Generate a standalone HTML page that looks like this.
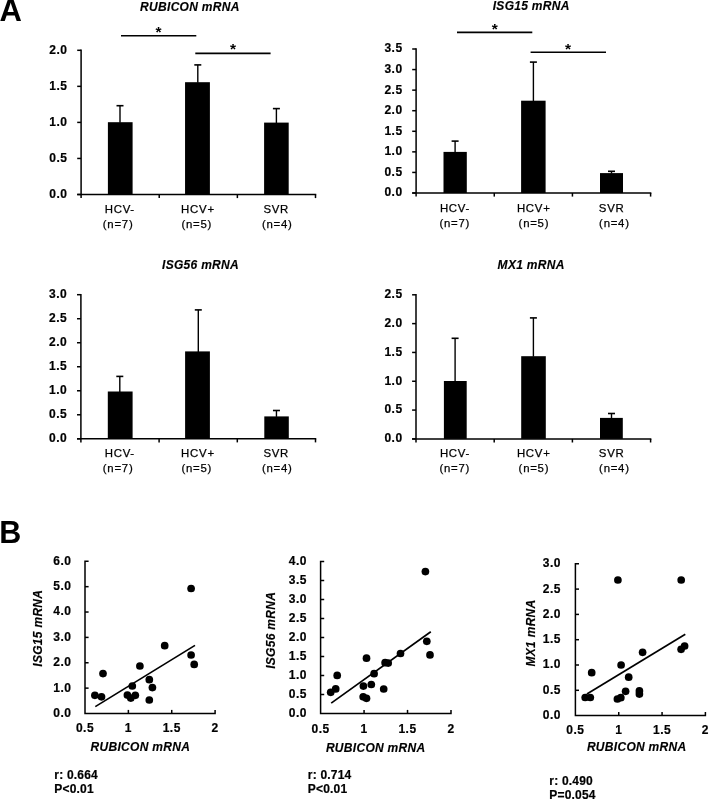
<!DOCTYPE html>
<html><head><meta charset="utf-8"><style>
html,body{margin:0;padding:0;background:#fff;}
body{width:709px;height:799px;overflow:hidden;}
svg{display:block;will-change:transform;font-family:"Liberation Sans",sans-serif;}
line,polyline{stroke:#000;fill:none;}
rect,circle{fill:#000;}
text{fill:#000;}
.yl{font-size:12px;font-weight:bold;letter-spacing:0.5px;stroke:#000;stroke-width:0.2px;}
.cl{font-size:11.4px;letter-spacing:0.75px;stroke:#000;stroke-width:0.25px;}
.tt{font-size:12px;font-weight:bold;font-style:italic;letter-spacing:0.3px;stroke:#000;stroke-width:0.15px;}
.ast{font-size:15.5px;font-weight:bold;}
.pl{font-size:29px;font-weight:bold;}
.rl{font-size:12px;font-weight:bold;letter-spacing:0.2px;stroke:#000;stroke-width:0.2px;}
</style></head><body>
<svg width="709" height="799" viewBox="0 0 709 799">
<line x1="81.1" y1="49.55" x2="81.1" y2="198.1" stroke-width="1.5"/>
<line x1="77.2" y1="194.5" x2="316.25" y2="194.5" stroke-width="1.5"/>
<line x1="77.2" y1="194.5" x2="81.1" y2="194.5" stroke-width="1.5"/>
<text x="67.4" y="197.9" class="yl" text-anchor="end">0.0</text>
<line x1="77.2" y1="158.45" x2="81.1" y2="158.45" stroke-width="1.5"/>
<text x="67.4" y="161.85" class="yl" text-anchor="end">0.5</text>
<line x1="77.2" y1="122.4" x2="81.1" y2="122.4" stroke-width="1.5"/>
<text x="67.4" y="125.8" class="yl" text-anchor="end">1.0</text>
<line x1="77.2" y1="86.35" x2="81.1" y2="86.35" stroke-width="1.5"/>
<text x="67.4" y="89.75" class="yl" text-anchor="end">1.5</text>
<line x1="77.2" y1="50.3" x2="81.1" y2="50.3" stroke-width="1.5"/>
<text x="67.4" y="53.7" class="yl" text-anchor="end">2.0</text>
<line x1="159.23" y1="194.5" x2="159.23" y2="198.1" stroke-width="1.5"/>
<line x1="237.37" y1="194.5" x2="237.37" y2="198.1" stroke-width="1.5"/>
<line x1="315.5" y1="194.5" x2="315.5" y2="198.1" stroke-width="1.5"/>
<rect x="107.9" y="122.2" width="24.7" height="72.3"/>
<line x1="120" y1="105.7" x2="120" y2="122.7" stroke-width="1.4"/>
<line x1="116.5" y1="105.7" x2="123.5" y2="105.7" stroke-width="1.6"/>
<rect x="185.05" y="82.2" width="24.85" height="112.3"/>
<line x1="197.8" y1="64.9" x2="197.8" y2="82.7" stroke-width="1.4"/>
<line x1="194.3" y1="64.9" x2="201.3" y2="64.9" stroke-width="1.6"/>
<rect x="264.1" y="122.6" width="24.6" height="71.9"/>
<line x1="276.4" y1="108.6" x2="276.4" y2="123.1" stroke-width="1.4"/>
<line x1="272.9" y1="108.6" x2="279.9" y2="108.6" stroke-width="1.6"/>
<text x="104.7" y="213" class="cl">HCV-</text>
<text x="102.8" y="227.6" class="cl">(n=7)</text>
<text x="181.1" y="213" class="cl">HCV+</text>
<text x="181.4" y="227.6" class="cl">(n=5)</text>
<text x="263.4" y="213" class="cl">SVR</text>
<text x="261.9" y="227.6" class="cl">(n=4)</text>
<text x="140.1" y="10.6" class="tt">RUBICON mRNA</text>
<line x1="121" y1="35.8" x2="196.3" y2="35.8" stroke-width="1.6"/>
<text x="158.6" y="36.6" class="ast" text-anchor="middle">*</text>
<line x1="195.3" y1="53.4" x2="270.6" y2="53.4" stroke-width="1.6"/>
<text x="233.1" y="54.3" class="ast" text-anchor="middle">*</text>
<line x1="416.1" y1="48.25" x2="416.1" y2="196.6" stroke-width="1.5"/>
<line x1="412.2" y1="193" x2="651.35" y2="193" stroke-width="1.5"/>
<line x1="412.2" y1="193" x2="416.1" y2="193" stroke-width="1.5"/>
<text x="402.6" y="196.4" class="yl" text-anchor="end">0.0</text>
<line x1="412.2" y1="172.43" x2="416.1" y2="172.43" stroke-width="1.5"/>
<text x="402.6" y="175.83" class="yl" text-anchor="end">0.5</text>
<line x1="412.2" y1="151.86" x2="416.1" y2="151.86" stroke-width="1.5"/>
<text x="402.6" y="155.26" class="yl" text-anchor="end">1.0</text>
<line x1="412.2" y1="131.29" x2="416.1" y2="131.29" stroke-width="1.5"/>
<text x="402.6" y="134.69" class="yl" text-anchor="end">1.5</text>
<line x1="412.2" y1="110.71" x2="416.1" y2="110.71" stroke-width="1.5"/>
<text x="402.6" y="114.11" class="yl" text-anchor="end">2.0</text>
<line x1="412.2" y1="90.14" x2="416.1" y2="90.14" stroke-width="1.5"/>
<text x="402.6" y="93.54" class="yl" text-anchor="end">2.5</text>
<line x1="412.2" y1="69.57" x2="416.1" y2="69.57" stroke-width="1.5"/>
<text x="402.6" y="72.97" class="yl" text-anchor="end">3.0</text>
<line x1="412.2" y1="49" x2="416.1" y2="49" stroke-width="1.5"/>
<text x="402.6" y="52.4" class="yl" text-anchor="end">3.5</text>
<line x1="494.27" y1="193" x2="494.27" y2="196.6" stroke-width="1.5"/>
<line x1="572.43" y1="193" x2="572.43" y2="196.6" stroke-width="1.5"/>
<line x1="650.6" y1="193" x2="650.6" y2="196.6" stroke-width="1.5"/>
<rect x="443.5" y="151.9" width="23.3" height="41.1"/>
<line x1="455.1" y1="141.1" x2="455.1" y2="152.4" stroke-width="1.4"/>
<line x1="451.6" y1="141.1" x2="458.6" y2="141.1" stroke-width="1.6"/>
<rect x="521.1" y="100.7" width="24.5" height="92.3"/>
<line x1="533.4" y1="62.1" x2="533.4" y2="101.2" stroke-width="1.4"/>
<line x1="529.9" y1="62.1" x2="536.9" y2="62.1" stroke-width="1.6"/>
<rect x="600" y="173.1" width="23" height="19.9"/>
<line x1="611.5" y1="171.3" x2="611.5" y2="173.6" stroke-width="1.4"/>
<line x1="608" y1="171.3" x2="615" y2="171.3" stroke-width="1.6"/>
<text x="439.9" y="211.8" class="cl">HCV-</text>
<text x="439.4" y="227.4" class="cl">(n=7)</text>
<text x="516.9" y="211.8" class="cl">HCV+</text>
<text x="518.6" y="227.4" class="cl">(n=5)</text>
<text x="598.8" y="211.8" class="cl">SVR</text>
<text x="599.1" y="227.4" class="cl">(n=4)</text>
<text x="492.7" y="10.2" class="tt">ISG15 mRNA</text>
<line x1="457" y1="32.4" x2="532.3" y2="32.4" stroke-width="1.6"/>
<text x="494.8" y="33.8" class="ast" text-anchor="middle">*</text>
<line x1="530.6" y1="52.2" x2="606" y2="52.2" stroke-width="1.6"/>
<text x="568.1" y="53.8" class="ast" text-anchor="middle">*</text>
<line x1="80.9" y1="293.95" x2="80.9" y2="442.4" stroke-width="1.5"/>
<line x1="77" y1="438.8" x2="316.25" y2="438.8" stroke-width="1.5"/>
<line x1="77" y1="438.8" x2="80.9" y2="438.8" stroke-width="1.5"/>
<text x="67.2" y="442.2" class="yl" text-anchor="end">0.0</text>
<line x1="77" y1="414.78" x2="80.9" y2="414.78" stroke-width="1.5"/>
<text x="67.2" y="418.18" class="yl" text-anchor="end">0.5</text>
<line x1="77" y1="390.77" x2="80.9" y2="390.77" stroke-width="1.5"/>
<text x="67.2" y="394.17" class="yl" text-anchor="end">1.0</text>
<line x1="77" y1="366.75" x2="80.9" y2="366.75" stroke-width="1.5"/>
<text x="67.2" y="370.15" class="yl" text-anchor="end">1.5</text>
<line x1="77" y1="342.73" x2="80.9" y2="342.73" stroke-width="1.5"/>
<text x="67.2" y="346.13" class="yl" text-anchor="end">2.0</text>
<line x1="77" y1="318.72" x2="80.9" y2="318.72" stroke-width="1.5"/>
<text x="67.2" y="322.12" class="yl" text-anchor="end">2.5</text>
<line x1="77" y1="294.7" x2="80.9" y2="294.7" stroke-width="1.5"/>
<text x="67.2" y="298.1" class="yl" text-anchor="end">3.0</text>
<line x1="159.1" y1="438.8" x2="159.1" y2="442.4" stroke-width="1.5"/>
<line x1="237.3" y1="438.8" x2="237.3" y2="442.4" stroke-width="1.5"/>
<line x1="315.5" y1="438.8" x2="315.5" y2="442.4" stroke-width="1.5"/>
<rect x="107.8" y="391.5" width="24.8" height="47.3"/>
<line x1="119.8" y1="376.4" x2="119.8" y2="392" stroke-width="1.4"/>
<line x1="116.3" y1="376.4" x2="123.3" y2="376.4" stroke-width="1.6"/>
<rect x="185.1" y="351.4" width="24.8" height="87.4"/>
<line x1="198.3" y1="309.9" x2="198.3" y2="351.9" stroke-width="1.4"/>
<line x1="194.8" y1="309.9" x2="201.8" y2="309.9" stroke-width="1.6"/>
<rect x="264.3" y="416.4" width="24.5" height="22.4"/>
<line x1="276.45" y1="410.5" x2="276.45" y2="416.9" stroke-width="1.4"/>
<line x1="272.95" y1="410.5" x2="279.95" y2="410.5" stroke-width="1.6"/>
<text x="104.7" y="457.3" class="cl">HCV-</text>
<text x="102.8" y="471.9" class="cl">(n=7)</text>
<text x="181.1" y="457.3" class="cl">HCV+</text>
<text x="181.4" y="471.9" class="cl">(n=5)</text>
<text x="263.4" y="457.3" class="cl">SVR</text>
<text x="261.9" y="471.9" class="cl">(n=4)</text>
<text x="162" y="269.1" class="tt">ISG56 mRNA</text>
<line x1="416" y1="294.05" x2="416" y2="442.5" stroke-width="1.5"/>
<line x1="412.1" y1="438.9" x2="651.35" y2="438.9" stroke-width="1.5"/>
<line x1="412.1" y1="438.9" x2="416" y2="438.9" stroke-width="1.5"/>
<text x="402.6" y="442.3" class="yl" text-anchor="end">0.0</text>
<line x1="412.1" y1="410.08" x2="416" y2="410.08" stroke-width="1.5"/>
<text x="402.6" y="413.48" class="yl" text-anchor="end">0.5</text>
<line x1="412.1" y1="381.26" x2="416" y2="381.26" stroke-width="1.5"/>
<text x="402.6" y="384.66" class="yl" text-anchor="end">1.0</text>
<line x1="412.1" y1="352.44" x2="416" y2="352.44" stroke-width="1.5"/>
<text x="402.6" y="355.84" class="yl" text-anchor="end">1.5</text>
<line x1="412.1" y1="323.62" x2="416" y2="323.62" stroke-width="1.5"/>
<text x="402.6" y="327.02" class="yl" text-anchor="end">2.0</text>
<line x1="412.1" y1="294.8" x2="416" y2="294.8" stroke-width="1.5"/>
<text x="402.6" y="298.2" class="yl" text-anchor="end">2.5</text>
<line x1="494.2" y1="438.9" x2="494.2" y2="442.5" stroke-width="1.5"/>
<line x1="572.4" y1="438.9" x2="572.4" y2="442.5" stroke-width="1.5"/>
<line x1="650.6" y1="438.9" x2="650.6" y2="442.5" stroke-width="1.5"/>
<rect x="443.9" y="381" width="22.8" height="57.9"/>
<line x1="455.1" y1="338.3" x2="455.1" y2="381.5" stroke-width="1.4"/>
<line x1="451.6" y1="338.3" x2="458.6" y2="338.3" stroke-width="1.6"/>
<rect x="521.2" y="356.2" width="24.6" height="82.7"/>
<line x1="533.4" y1="317.9" x2="533.4" y2="356.7" stroke-width="1.4"/>
<line x1="529.9" y1="317.9" x2="536.9" y2="317.9" stroke-width="1.6"/>
<rect x="600" y="417.9" width="22.8" height="21"/>
<line x1="611.5" y1="413.5" x2="611.5" y2="418.4" stroke-width="1.4"/>
<line x1="608" y1="413.5" x2="615" y2="413.5" stroke-width="1.6"/>
<text x="439.9" y="456.6" class="cl">HCV-</text>
<text x="439.4" y="472.2" class="cl">(n=7)</text>
<text x="516.9" y="456.6" class="cl">HCV+</text>
<text x="518.6" y="472.2" class="cl">(n=5)</text>
<text x="598.8" y="456.6" class="cl">SVR</text>
<text x="599.1" y="472.2" class="cl">(n=4)</text>
<text x="497.6" y="269.1" class="tt">MX1 mRNA</text>
<text x="-0.4" y="20.7" class="pl" style="font-size:31px">A</text>
<text x="-0.8" y="542.9" class="pl" style="font-size:30.5px">B</text>
<polyline points="88.6,561.3 85,561.3 85,713.5 215.1,713.5 215.1,709.9" stroke-width="1.5"/>
<text x="71.4" y="716.9" class="yl" text-anchor="end">0.0</text>
<line x1="85" y1="688.13" x2="88.6" y2="688.13" stroke-width="1.5"/>
<text x="71.4" y="691.53" class="yl" text-anchor="end">1.0</text>
<line x1="85" y1="662.77" x2="88.6" y2="662.77" stroke-width="1.5"/>
<text x="71.4" y="666.17" class="yl" text-anchor="end">2.0</text>
<line x1="85" y1="637.4" x2="88.6" y2="637.4" stroke-width="1.5"/>
<text x="71.4" y="640.8" class="yl" text-anchor="end">3.0</text>
<line x1="85" y1="612.03" x2="88.6" y2="612.03" stroke-width="1.5"/>
<text x="71.4" y="615.43" class="yl" text-anchor="end">4.0</text>
<line x1="85" y1="586.67" x2="88.6" y2="586.67" stroke-width="1.5"/>
<text x="71.4" y="590.07" class="yl" text-anchor="end">5.0</text>
<text x="71.4" y="564.7" class="yl" text-anchor="end">6.0</text>
<text x="85" y="732.4" class="yl" text-anchor="middle">0.5</text>
<line x1="128.37" y1="713.5" x2="128.37" y2="709.9" stroke-width="1.5"/>
<text x="128.37" y="732.4" class="yl" text-anchor="middle">1</text>
<line x1="171.73" y1="713.5" x2="171.73" y2="709.9" stroke-width="1.5"/>
<text x="171.73" y="732.4" class="yl" text-anchor="middle">1.5</text>
<text x="215.1" y="732.4" class="yl" text-anchor="middle">2</text>
<circle cx="94.9" cy="695.3" r="3.85"/>
<circle cx="101.5" cy="696.8" r="3.85"/>
<circle cx="103" cy="673.6" r="3.85"/>
<circle cx="127.4" cy="695.1" r="3.85"/>
<circle cx="130.8" cy="698.1" r="3.85"/>
<circle cx="135.3" cy="695.3" r="3.85"/>
<circle cx="132.3" cy="686" r="3.85"/>
<circle cx="139.9" cy="666" r="3.85"/>
<circle cx="149.3" cy="679.7" r="3.85"/>
<circle cx="152.4" cy="687.6" r="3.85"/>
<circle cx="149.3" cy="700" r="3.85"/>
<circle cx="164.7" cy="645.7" r="3.85"/>
<circle cx="191.1" cy="588.5" r="3.85"/>
<circle cx="191.1" cy="655" r="3.85"/>
<circle cx="194.2" cy="664.4" r="3.85"/>
<line x1="95.3" y1="706.6" x2="195" y2="645.4" stroke-width="1.7"/>
<text x="90.5" y="751.1" class="tt">RUBICON mRNA</text>
<text x="0" y="0" class="tt" text-anchor="middle" transform="translate(42.4,628.2) rotate(-90)">ISG15 mRNA</text>
<text x="54.3" y="778.6" class="rl">r: 0.664</text>
<text x="54.3" y="792.6" class="rl">P&lt;0.01</text>
<polyline points="324.2,561.5 320.6,561.5 320.6,713.5 451,713.5 451,709.9" stroke-width="1.5"/>
<text x="307" y="716.9" class="yl" text-anchor="end">0.0</text>
<line x1="320.6" y1="694.5" x2="324.2" y2="694.5" stroke-width="1.5"/>
<text x="307" y="697.9" class="yl" text-anchor="end">0.5</text>
<line x1="320.6" y1="675.5" x2="324.2" y2="675.5" stroke-width="1.5"/>
<text x="307" y="678.9" class="yl" text-anchor="end">1.0</text>
<line x1="320.6" y1="656.5" x2="324.2" y2="656.5" stroke-width="1.5"/>
<text x="307" y="659.9" class="yl" text-anchor="end">1.5</text>
<line x1="320.6" y1="637.5" x2="324.2" y2="637.5" stroke-width="1.5"/>
<text x="307" y="640.9" class="yl" text-anchor="end">2.0</text>
<line x1="320.6" y1="618.5" x2="324.2" y2="618.5" stroke-width="1.5"/>
<text x="307" y="621.9" class="yl" text-anchor="end">2.5</text>
<line x1="320.6" y1="599.5" x2="324.2" y2="599.5" stroke-width="1.5"/>
<text x="307" y="602.9" class="yl" text-anchor="end">3.0</text>
<line x1="320.6" y1="580.5" x2="324.2" y2="580.5" stroke-width="1.5"/>
<text x="307" y="583.9" class="yl" text-anchor="end">3.5</text>
<text x="307" y="564.9" class="yl" text-anchor="end">4.0</text>
<text x="320.6" y="732.6" class="yl" text-anchor="middle">0.5</text>
<line x1="364.07" y1="713.5" x2="364.07" y2="709.9" stroke-width="1.5"/>
<text x="364.07" y="732.6" class="yl" text-anchor="middle">1</text>
<line x1="407.53" y1="713.5" x2="407.53" y2="709.9" stroke-width="1.5"/>
<text x="407.53" y="732.6" class="yl" text-anchor="middle">1.5</text>
<text x="451" y="732.6" class="yl" text-anchor="middle">2</text>
<circle cx="330.7" cy="692.3" r="3.85"/>
<circle cx="335.7" cy="688.9" r="3.85"/>
<circle cx="337.2" cy="675.4" r="3.85"/>
<circle cx="363.4" cy="686.1" r="3.85"/>
<circle cx="363.2" cy="696.8" r="3.85"/>
<circle cx="366.5" cy="698.3" r="3.85"/>
<circle cx="366.5" cy="658.2" r="3.85"/>
<circle cx="371.3" cy="684.5" r="3.85"/>
<circle cx="374.1" cy="673.7" r="3.85"/>
<circle cx="383.7" cy="689" r="3.85"/>
<circle cx="385.1" cy="662.7" r="3.85"/>
<circle cx="388.2" cy="663.1" r="3.85"/>
<circle cx="400.5" cy="653.5" r="3.85"/>
<circle cx="426.8" cy="641.3" r="3.85"/>
<circle cx="430" cy="654.9" r="3.85"/>
<circle cx="425.4" cy="571.6" r="3.85"/>
<line x1="331.2" y1="703.1" x2="430.8" y2="631.8" stroke-width="1.7"/>
<text x="325.9" y="751.8" class="tt">RUBICON mRNA</text>
<text x="0" y="0" class="tt" text-anchor="middle" transform="translate(274.9,630.3) rotate(-90)">ISG56 mRNA</text>
<text x="307.8" y="779.3" class="rl">r: 0.714</text>
<text x="307.8" y="792.8" class="rl">P&lt;0.01</text>
<polyline points="579,563.8 575.4,563.8 575.4,715.6 705.4,715.6 705.4,712" stroke-width="1.5"/>
<text x="561" y="719" class="yl" text-anchor="end">0.0</text>
<line x1="575.4" y1="690.3" x2="579" y2="690.3" stroke-width="1.5"/>
<text x="561" y="693.7" class="yl" text-anchor="end">0.5</text>
<line x1="575.4" y1="665" x2="579" y2="665" stroke-width="1.5"/>
<text x="561" y="668.4" class="yl" text-anchor="end">1.0</text>
<line x1="575.4" y1="639.7" x2="579" y2="639.7" stroke-width="1.5"/>
<text x="561" y="643.1" class="yl" text-anchor="end">1.5</text>
<line x1="575.4" y1="614.4" x2="579" y2="614.4" stroke-width="1.5"/>
<text x="561" y="617.8" class="yl" text-anchor="end">2.0</text>
<line x1="575.4" y1="589.1" x2="579" y2="589.1" stroke-width="1.5"/>
<text x="561" y="592.5" class="yl" text-anchor="end">2.5</text>
<text x="561" y="567.2" class="yl" text-anchor="end">3.0</text>
<text x="575.4" y="733.6" class="yl" text-anchor="middle">0.5</text>
<line x1="618.73" y1="715.6" x2="618.73" y2="712" stroke-width="1.5"/>
<text x="618.73" y="733.6" class="yl" text-anchor="middle">1</text>
<line x1="662.07" y1="715.6" x2="662.07" y2="712" stroke-width="1.5"/>
<text x="662.07" y="733.6" class="yl" text-anchor="middle">1.5</text>
<text x="705.4" y="733.6" class="yl" text-anchor="middle">2</text>
<circle cx="585.2" cy="697.5" r="3.85"/>
<circle cx="590.3" cy="697.5" r="3.85"/>
<circle cx="591.7" cy="672.7" r="3.85"/>
<circle cx="617.4" cy="699" r="3.85"/>
<circle cx="620.8" cy="697.7" r="3.85"/>
<circle cx="621.1" cy="665" r="3.85"/>
<circle cx="625.6" cy="691.3" r="3.85"/>
<circle cx="628.7" cy="677.2" r="3.85"/>
<circle cx="639.4" cy="690.9" r="3.85"/>
<circle cx="639.4" cy="694.1" r="3.85"/>
<circle cx="642.6" cy="652.3" r="3.85"/>
<circle cx="617.9" cy="580" r="3.85"/>
<circle cx="681.2" cy="580" r="3.85"/>
<circle cx="681.1" cy="649.3" r="3.85"/>
<circle cx="684.6" cy="646" r="3.85"/>
<line x1="586.9" y1="694" x2="685.3" y2="634.3" stroke-width="1.7"/>
<text x="586.9" y="751.1" class="tt">RUBICON mRNA</text>
<text x="0" y="0" class="tt" text-anchor="middle" transform="translate(534.5,633) rotate(-90)">MX1 mRNA</text>
<text x="549.3" y="784.5" class="rl">r: 0.490</text>
<text x="549.3" y="798.5" class="rl">P=0.054</text>
</svg>
</body></html>
